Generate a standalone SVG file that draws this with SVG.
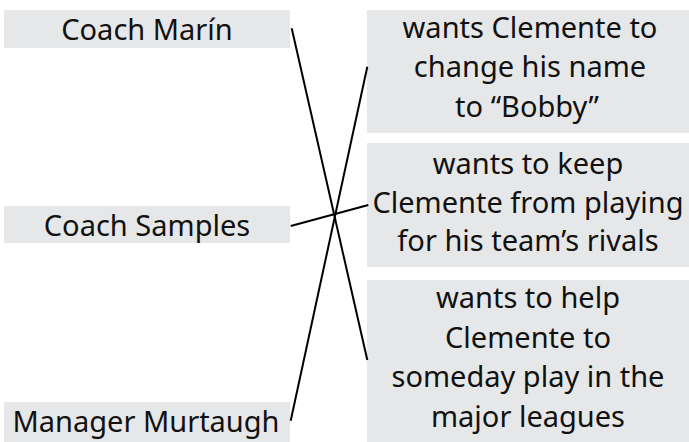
<svg xmlns="http://www.w3.org/2000/svg" width="689" height="442" viewBox="0 0 689 442">
<style>
.box{fill:#e6e7e8}
.t{font-family:"Noto Sans","Open Sans",sans-serif;font-size:29px;fill:#111;text-anchor:middle}
.c{stroke:#000;stroke-width:2;fill:none;stroke-linecap:butt}
</style>
<rect width="689" height="442" fill="#fff"/>
<g id="coach-marin"><rect class="box" x="4" y="10" width="286" height="38"/><text class="t" x="147" y="40">Coach Marín</text></g>
<g id="coach-samples"><rect class="box" x="4" y="206" width="286" height="37"/><text class="t" x="147" y="236">Coach Samples</text></g>
<g id="manager-murtaugh"><rect class="box" x="4" y="402" width="286" height="40"/><text class="t" x="146" y="432">Manager Murtaugh</text></g>
<g id="goal-name"><rect class="box" x="367" y="10" width="323" height="123"/><text class="t" x="530" y="38">wants Clemente to</text><text class="t" x="530" y="77">change his name</text><text class="t" x="527" y="117">to “Bobby”</text></g>
<g id="goal-rivals"><rect class="box" x="367" y="143" width="323" height="124"/><text class="t" x="528" y="174">wants to keep</text><text class="t" x="528" y="213">Clemente from playing</text><text class="t" x="528" y="251">for his team’s rivals</text></g>
<g id="goal-majors"><rect class="box" x="367" y="280" width="323" height="162"/><text class="t" x="528" y="308">wants to help</text><text class="t" x="528" y="348">Clemente to</text><text class="t" x="528" y="387">someday play in the</text><text class="t" x="528" y="427">major leagues</text></g>
<g id="connectors">
<line class="c" x1="291.7" y1="28.3" x2="367.3" y2="360"/>
<line class="c" x1="290.7" y1="226" x2="368.3" y2="205"/>
<line class="c" x1="290.7" y1="420.7" x2="367.3" y2="66.7"/>
</g>
</svg>
